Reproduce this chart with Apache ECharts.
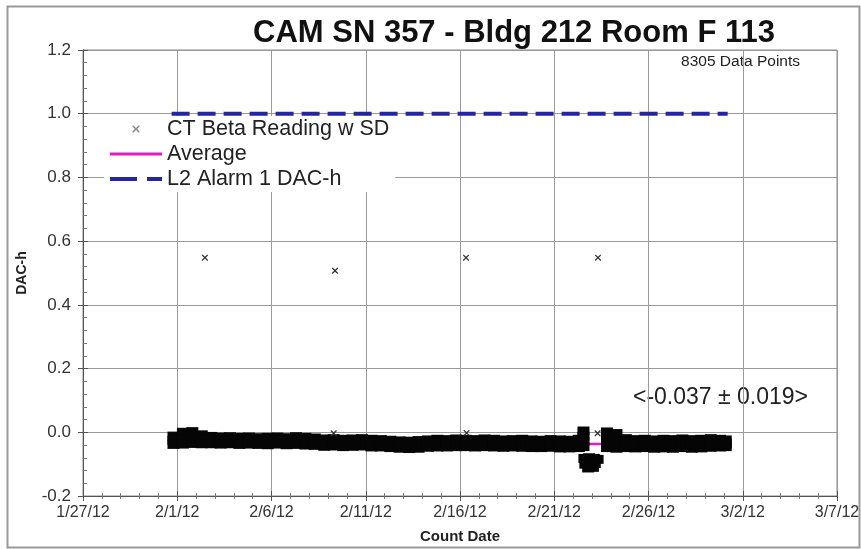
<!DOCTYPE html>
<html>
<head>
<meta charset="utf-8">
<script src="https://cdn.jsdelivr.net/npm/echarts@6/dist/echarts.min.js"></script>
<style>html,body{margin:0;padding:0;background:#fff;}#c{width:861px;height:549px;}</style>
</head>
<body>
<div id="c"></div>
<script>
// x values are days after 1/27/12
const xTickLabels = ['1/27/12','2/1/12','2/6/12','2/11/12','2/16/12','2/21/12','2/26/12','3/2/12','3/7/12'];

// dense band of CT Beta readings (day, upper, middle, lower)
const bandDays = [4.8,5.3,5.8,6.3,6.8,7.3,7.8,8.3,8.8,9.3,9.8,10.3,10.8,11.3,11.8,12.3,12.8,13.3,13.8,14.3,14.8,15.3,15.8,16.3,16.8,17.3,17.8,18.3,18.8,19.3,19.8,20.3,20.8,21.3,21.8,22.3,22.8,23.3,23.8,24.3,24.8,25.3,25.8,26.3,27.8,28.3,28.8,29.3,29.8,30.3,30.8,31.3,31.8,32.3,32.8,33.3,33.8,34.1];
const bandHigh = [-0.012,0.000,0.002,-0.008,-0.013,-0.015,-0.014,-0.016,-0.015,-0.017,-0.016,-0.015,-0.017,-0.014,-0.016,-0.018,-0.021,-0.020,-0.022,-0.021,-0.020,-0.022,-0.023,-0.025,-0.027,-0.028,-0.026,-0.024,-0.022,-0.023,-0.021,-0.022,-0.023,-0.021,-0.022,-0.024,-0.023,-0.022,-0.024,-0.025,-0.023,-0.024,-0.025,-0.022,0.001,-0.004,-0.020,-0.023,-0.022,-0.024,-0.022,-0.023,-0.021,-0.023,-0.022,-0.020,-0.022,-0.024];
const bandMid  = [-0.025,-0.020,-0.018,-0.022,-0.025,-0.026,-0.025,-0.027,-0.026,-0.028,-0.027,-0.027,-0.028,-0.026,-0.028,-0.030,-0.032,-0.031,-0.033,-0.032,-0.031,-0.034,-0.034,-0.036,-0.038,-0.039,-0.038,-0.035,-0.034,-0.034,-0.033,-0.033,-0.034,-0.033,-0.034,-0.035,-0.034,-0.034,-0.036,-0.036,-0.035,-0.036,-0.037,-0.035,-0.024,-0.026,-0.034,-0.036,-0.035,-0.036,-0.035,-0.036,-0.034,-0.036,-0.035,-0.033,-0.034,-0.035];
const bandLow  = [-0.038,-0.037,-0.035,-0.036,-0.036,-0.037,-0.036,-0.038,-0.037,-0.038,-0.039,-0.037,-0.039,-0.038,-0.040,-0.041,-0.044,-0.043,-0.045,-0.044,-0.043,-0.046,-0.046,-0.048,-0.050,-0.051,-0.050,-0.047,-0.046,-0.046,-0.045,-0.045,-0.046,-0.045,-0.046,-0.047,-0.046,-0.047,-0.048,-0.048,-0.047,-0.049,-0.049,-0.048,-0.048,-0.050,-0.048,-0.049,-0.048,-0.050,-0.049,-0.050,-0.048,-0.050,-0.049,-0.047,-0.046,-0.045];

// spike and dip around 2/22-2/23
const dipDays   = [26.55,26.55,26.55,26.55,26.6,26.85,27.1,27.3,26.65,26.9,27.15,26.8,27.05];
const dipValues = [0.004,-0.012,-0.028,-0.045,-0.082,-0.080,-0.082,-0.085,-0.100,-0.105,-0.098,-0.112,-0.110];

// isolated readings
const ctDays   = [6.47,13.37,20.32,27.32,13.3,20.35,27.3];
const ctValues = [0.548,0.507,0.548,0.548,-0.003,-0.002,-0.003];

const avgDays = [4.7,34.2];
const avgValues = [-0.037,-0.037];
const alarmDays = [4.7,34.2];
const alarmValues = [1.0,1.0];

const bandData = [];
bandDays.forEach((d,i)=>{ bandData.push([d,bandHigh[i]],[d,bandMid[i]],[d,bandLow[i]]); });
dipDays.forEach((d,i)=>bandData.push([d,dipValues[i]]));
const ctData = ctDays.map((d,i)=>[d,ctValues[i]]);
const avgData = avgDays.map((d,i)=>[d,avgValues[i]]);
const alarmData = alarmDays.map((d,i)=>[d,alarmValues[i]]);

const xMark = 'path://M0,0 L1.5,0 L5,3.5 L8.5,0 L10,0 L10,1.5 L6.5,5 L10,8.5 L10,10 L8.5,10 L5,6.5 L1.5,10 L0,10 L0,8.5 L3.5,5 L0,1.5 Z';
const FONT = '"Liberation Sans", Arial, sans-serif';

const chart = echarts.init(document.getElementById('c'), null, {renderer:'canvas'});
const axisCommon = {min: 0, max: 40, interval: 5};
chart.setOption({
  animation: false,
  backgroundColor: '#fff',
  title: {
    text: 'CAM SN 357 - Bldg 212 Room F 113',
    left: 248, top: 13,
    textStyle: {fontFamily: FONT, fontSize: 31, fontWeight: 'bold', color: '#111'}
  },
  grid: {left: 83, right: 24, top: 50, bottom: 53, show: true, borderColor: '#888', borderWidth: 1,
    containLabel: false, outerBoundsMode: 'none'},
  legend: {
    orient: 'vertical', left: 104, top: 116,
    itemWidth: 52, itemHeight: 7, itemGap: 3,
    backgroundColor: '#fff', padding: [2, 6, 2, 4],
    textStyle: {fontFamily: FONT, fontSize: 21.5, color: '#222'},
    data: [
      {name: 'CT Beta Reading w SD', itemStyle: {color: '#888', opacity: 1}},
      {name: 'Average', itemStyle: {color: 'rgba(0,0,0,0)', borderWidth: 0}, lineStyle: {width: 3, color: '#e01ec4'}},
      {name: 'L2 Alarm 1 DAC-h', itemStyle: {color: 'rgba(0,0,0,0)', borderWidth: 0}, lineStyle: {width: 4, color: '#2424a6', type: [27, 10]}}
    ]
  },
  xAxis: [
    Object.assign({
      type: 'value', position: 'bottom',
      name: 'Count Date', nameLocation: 'middle', nameGap: 33,
      nameTextStyle: {fontFamily: FONT, fontSize: 15, fontWeight: 'bold', color: '#222'},
      axisLine: {show: true, onZero: false, lineStyle: {color: '#555', width: 1}},
      axisTick: {show: true, inside: true, length: 5, lineStyle: {color: '#555'}},
      minorTick: {show: true, splitNumber: 5, length: 3, lineStyle: {color: '#777'}},
      axisLabel: {fontFamily: FONT, fontSize: 16, color: '#333', margin: 9,
        formatter: v => xTickLabels[Math.round(v / 5)]},
      splitLine: {show: true, lineStyle: {color: '#999', width: 1}}
    }, axisCommon),
    Object.assign({
      type: 'value', position: 'bottom',
      axisLine: {show: false, onZero: false},
      axisTick: {show: true, inside: false, length: 5, lineStyle: {color: '#555'}},
      minorTick: {show: true, splitNumber: 5, length: 3, lineStyle: {color: '#777'}},
      axisLabel: {show: false}, splitLine: {show: false}
    }, axisCommon)
  ],
  yAxis: [
    {
      type: 'value', min: -0.2, max: 1.2, interval: 0.2,
      name: 'DAC-h', nameLocation: 'middle', nameGap: 54, nameRotate: 90,
      nameTextStyle: {fontFamily: FONT, fontSize: 14, fontWeight: 'bold', color: '#222'},
      axisLine: {show: true, onZero: false, lineStyle: {color: '#555', width: 1}},
      axisTick: {show: true, inside: true, length: 5, lineStyle: {color: '#555'}},
      minorTick: {show: true, splitNumber: 5, length: 4, lineStyle: {color: '#777'}},
      axisLabel: {fontFamily: FONT, fontSize: 17, color: '#333', margin: 12,
        formatter: v => v.toFixed(1)},
      splitLine: {show: true, lineStyle: {color: '#999', width: 1}}
    },
    {
      type: 'value', min: -0.2, max: 1.2, interval: 0.2, position: 'left',
      axisLine: {show: false, onZero: false},
      axisTick: {show: true, inside: false, length: 5, lineStyle: {color: '#555'}},
      axisLabel: {show: false}, splitLine: {show: false}
    }
  ],
  series: [
    {
      name: 'L2 Alarm 1 DAC-h', type: 'line', data: alarmData, symbol: 'none', showSymbol: false, z: 3,
      lineStyle: {color: '#2424a6', width: 4, type: [18, 8]},
      itemStyle: {color: '#2424a6'}
    },
    {
      name: 'Average', type: 'line', data: avgData, symbol: 'none', showSymbol: false, z: 2,
      lineStyle: {color: '#e01ec4', width: 2.5},
      itemStyle: {color: '#e01ec4'}
    },
    {
      name: 'band', type: 'scatter', data: bandData, symbol: 'rect', symbolSize: [12, 9], z: 4,
      itemStyle: {color: '#050505', opacity: 1}
    },
    {
      name: 'CT Beta Reading w SD', type: 'scatter', data: ctData, symbol: xMark, symbolSize: 6, z: 5,
      itemStyle: {color: '#333', opacity: 1}
    }
  ],
  graphic: [
    {type: 'rect', left: 5, top: 4, shape: {width: 852, height: 541}, silent: true, z: -1,
      style: {fill: null, stroke: '#999', lineWidth: 2}},
    {type: 'text', right: 61, top: 54, style: {text: '8305 Data Points', fontFamily: FONT, fontSize: 15.5, fill: '#222'}},
    {type: 'text', right: 53, top: 386, style: {text: '<-0.037 \u00b1 0.019>', fontFamily: FONT, fontSize: 23, fill: '#222'}}
  ]
});
</script>
</body>
</html>
